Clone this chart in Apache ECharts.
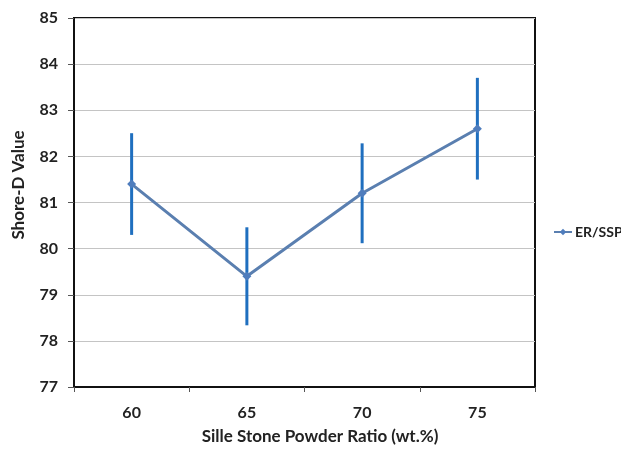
<!DOCTYPE html>
<html>
<head>
<meta charset="utf-8">
<script src="https://cdn.jsdelivr.net/npm/echarts@6/dist/echarts.min.js"></script>
<style>
  html, body { margin: 0; padding: 0; background: #fff; }
  #chart { width: 621px; height: 451px; }
</style>
</head>
<body>
<div id="chart"></div>
<script>
// Shore-D hardness against stone powder loading
const ratios = ['60', '65', '70', '75'];
const shoreD = [81.4, 79.4, 81.2, 82.6];
const errLow = [80.33, 78.37, 80.15, 81.53];
const errHigh = [82.47, 80.43, 82.25, 83.67];
const yTicks = { min: 77, max: 85, step: 1 };
const xTitle = 'Sille Stone Powder Ratio (wt.%)';
const yTitle = 'Shore-D Value';

const FONT = 'Lato, "Open Sans", sans-serif';

const errData = ratios.map((r, i) => [i, errLow[i], errHigh[i]]);

const chart = echarts.init(document.getElementById('chart'));
chart.setOption({
  backgroundColor: '#ffffff',
  animation: false,
  grid: {
    left: 74, right: 86, top: 18, bottom: 64,
    show: true, borderColor: '#111', borderWidth: 2, backgroundColor: 'transparent'
  },
  graphic: [
    {
      type: 'text', x: 19, y: 185, rotation: Math.PI / 2,
      style: { text: yTitle, fontFamily: FONT, fontWeight: 'bold', fontSize: 17, fill: '#222',
               align: 'center', verticalAlign: 'middle' }
    },
    {
      type: 'text', x: 320, y: 437,
      style: { text: xTitle, fontFamily: FONT, fontWeight: 'bold', fontSize: 17, fill: '#222',
               align: 'center', verticalAlign: 'middle' }
    }
  ],
  legend: {
    data: ['ER/SSP'],
    orient: 'vertical',
    left: 548, top: 220,
    itemWidth: 18, itemHeight: 8, itemGap: 4,
    textStyle: { fontFamily: FONT, fontWeight: 'bold', fontSize: 14, color: '#222', padding: [0, 0, 0, -2] }
  },
  xAxis: {
    type: 'category',
    data: ratios,
    boundaryGap: true,
    axisLine: { lineStyle: { color: '#111', width: 2 } },
    axisTick: { show: true, length: 5, interval: 0, lineStyle: { color: '#555' } },
    axisLabel: { fontFamily: FONT, fontWeight: 'bold', fontSize: 16, color: '#222', margin: 18 },
    splitLine: { show: false }
  },
  yAxis: {
    type: 'value',
    min: yTicks.min, max: yTicks.max, interval: yTicks.step,
    axisLine: { show: true, lineStyle: { color: '#111', width: 2 } },
    axisTick: { show: true, length: 6, lineStyle: { color: '#555' } },
    axisLabel: { fontFamily: FONT, fontWeight: 'bold', fontSize: 16, color: '#222', margin: 16 },
    splitLine: { show: true, lineStyle: { color: '#c4c4c4', width: 1 } }
  },
  series: [
    {
      name: 'error',
      type: 'custom',
      data: errData,
      z: 3,
      renderItem: function (params, api) {
        const lo = api.coord([api.value(0), api.value(1)]);
        const hi = api.coord([api.value(0), api.value(2)]);
        return {
          type: 'line',
          shape: { x1: lo[0], y1: lo[1], x2: hi[0], y2: hi[1] },
          style: { stroke: '#1f6fbf', lineWidth: 3, lineCap: 'square' }
        };
      }
    },
    {
      name: 'ER/SSP',
      type: 'line',
      data: shoreD,
      z: 4,
      symbol: 'diamond',
      symbolSize: 9,
      lineStyle: { color: '#5a7fb0', width: 3 },
      itemStyle: { color: '#4f7dbd' }
    }
  ]
});
</script>
</body>
</html>
